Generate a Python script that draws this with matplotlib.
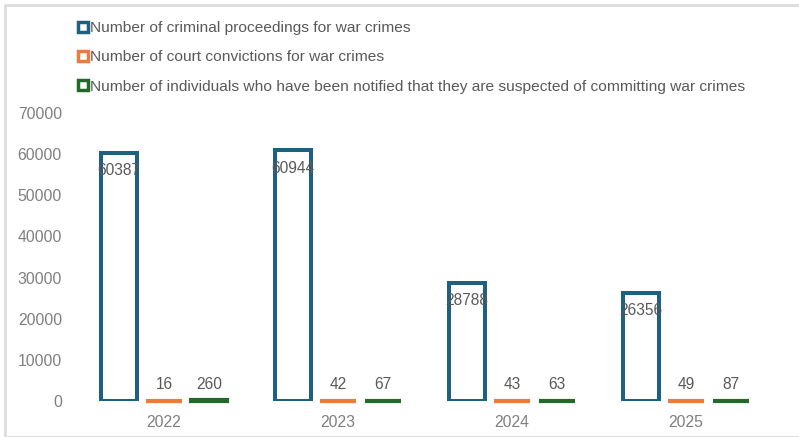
import matplotlib.pyplot as plt
from matplotlib.lines import Line2D
from matplotlib.patches import Rectangle
import numpy as np

years = ["2022", "2023", "2024", "2025"]
proceedings = [60387, 60944, 28788, 26356]
convictions = [16, 42, 43, 49]
notified = [260, 67, 63, 87]

series_names = [
    "Number of criminal proceedings for war crimes",
    "Number of court convictions for war crimes",
    "Number of individuals who have been notified that they are suspected of committing war crimes",
]
blue = "#1f5f7f"
orange = "#e97c3f"
green = "#22692a"

plt.rcParams['font.family'] = ['Liberation Sans', 'DejaVu Sans']

fig = plt.figure(figsize=(7.99, 4.37), dpi=100)
fig.patches.append(Rectangle((5 / 799, 0.0), 1.0, (437 - 5) / 437, transform=fig.transFigure,
                             fill=False, edgecolor="#dddddd", linewidth=2, zorder=0))
ax = fig.add_axes([77 / 799, 36 / 437, 696 / 799, 288 / 437])

x = np.arange(len(years))
w = 0.21
off = 0.259

b1 = ax.bar(x - off, proceedings, w, facecolor="white", edgecolor=blue, linewidth=2.9)
b2 = ax.bar(x, convictions, w, color=orange, edgecolor=orange, linewidth=3.0, clip_on=False)
b3 = ax.bar(x + off, notified, w, color=green, edgecolor=green, linewidth=3.0, clip_on=False)

for rect, v in zip(b1, proceedings):
    ax.annotate(str(v), (rect.get_x() + rect.get_width() / 2, v), xytext=(0, -13),
                textcoords="offset points", ha="center", va="center", fontsize=11.2, color="#595959")
for bars, vals in ((b2, convictions), (b3, notified)):
    for rect, v in zip(bars, vals):
        ax.annotate(str(v), (rect.get_x() + rect.get_width() / 2, 0), xytext=(0, 12),
                    textcoords="offset points", ha="center", va="center", fontsize=11.2, color="#595959")

ax.set_xlim(-0.5, len(years) - 0.5)
ax.set_ylim(0, 70000)
ax.set_yticks(range(0, 70001, 10000))
ax.set_xticks(x)
ax.set_xticklabels(years)
ax.tick_params(axis="both", length=0, labelsize=11.3, labelcolor="#7f7f7f")
ax.tick_params(axis="y", pad=10.8)
ax.tick_params(axis="x", pad=10)
for s in ax.spines.values():
    s.set_visible(False)

handles = [Line2D([], [], marker="s", linestyle="none", markersize=7, markerfacecolor="white",
                  markeredgecolor=c, markeredgewidth=2.5) for c in (blue, orange, green)]
fig.legend(handles, series_names, loc="upper left", bbox_to_anchor=(72 / 799, 1 - 15 / 437),
           frameon=False, fontsize=11.15, labelcolor="#595959", handlelength=0.6,
           handletextpad=0.15, labelspacing=0.98, borderaxespad=0)

fig.savefig("out.png", dpi=100)
